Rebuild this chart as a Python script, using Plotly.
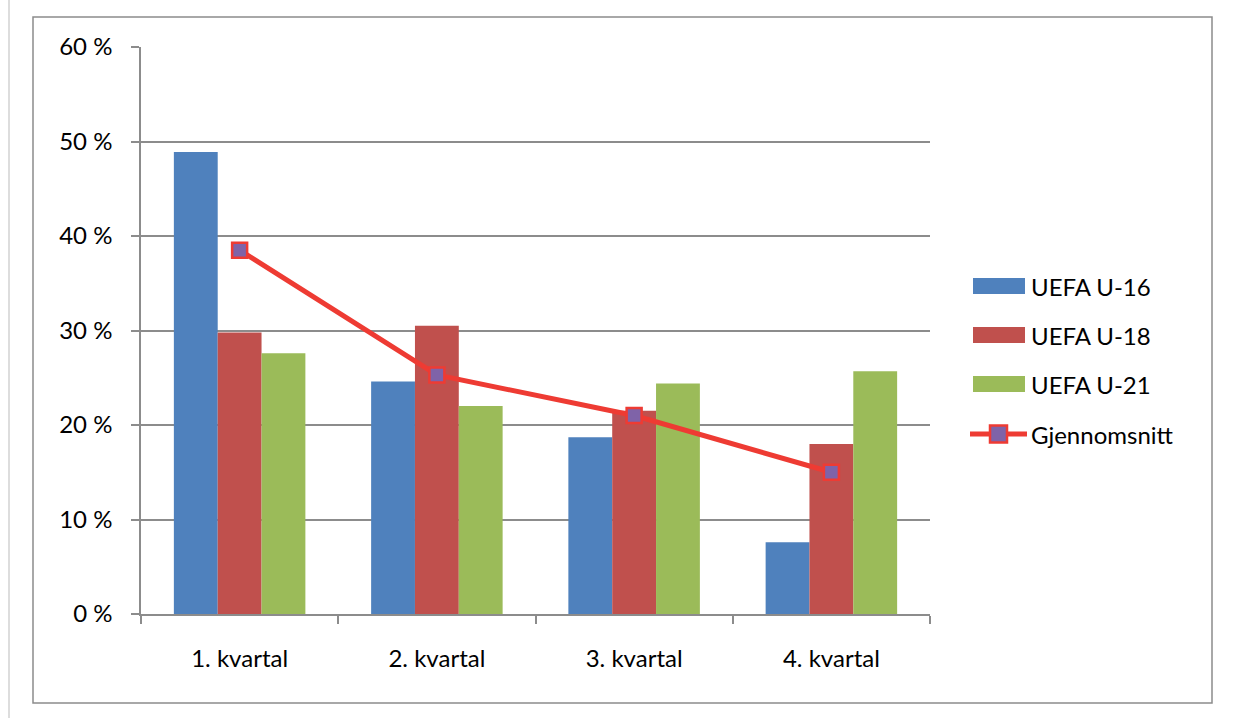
import plotly.graph_objects as go

categories = ["1. kvartal", "2. kvartal", "3. kvartal", "4. kvartal"]
u16 = [48.9, 24.6, 18.7, 7.6]
u18 = [29.8, 30.5, 21.5, 18.0]
u21 = [27.6, 22.0, 24.4, 25.7]
avg = [38.5, 25.3, 21.0, 15.0]
y_ticks = [0, 10, 20, 30, 40, 50, 60]

series_names = ["UEFA U-16", "UEFA U-18", "UEFA U-21", "Gjennomsnitt"]
colors = ["#4F81BD", "#C0504D", "#9BBB59"]
line_color = "#EE3B33"
marker_fill = "#7F63A8"

W, H = 1234, 718
L, R, T, B = 141, 930, 47, 614

def px(x):
    return (x - L) / (R - L)

def py(y):
    return (B - y) / (B - T)

fig = go.Figure()
for name, vals, col in zip(series_names[:3], [u16, u18, u21], colors):
    fig.add_trace(go.Bar(x=categories, y=vals, name=name, showlegend=False,
                         marker=dict(color=col, line=dict(width=0))))
fig.add_trace(go.Scatter(x=categories, y=avg, name=series_names[3], mode="lines+markers", showlegend=False,
                         line=dict(color=line_color, width=5),
                         marker=dict(symbol="square", size=15, color=marker_fill,
                                     line=dict(color=line_color, width=2.5))))

font_family = "Lato, Open Sans, sans-serif"
fs = 24

shapes = [
    dict(type="rect", xref="paper", yref="paper", x0=px(33), x1=px(1212), y0=py(703), y1=py(17),
         line=dict(color="#8C8C8C", width=1.5), fillcolor="rgba(0,0,0,0)", layer="below"),
    dict(type="line", xref="paper", yref="paper", x0=px(9), x1=px(9), y0=py(718), y1=py(0),
         line=dict(color="#BBBBBB", width=1)),
]
annotations = []
leg_y = [286, 335, 384, 434]
for i, name in enumerate(series_names):
    yc = leg_y[i]
    if i < 3:
        shapes.append(dict(type="rect", xref="paper", yref="paper",
                           x0=px(973), x1=px(1025), y0=py(yc + 8), y1=py(yc - 8),
                           fillcolor=colors[i], line=dict(width=0)))
    else:
        shapes.append(dict(type="line", xref="paper", yref="paper",
                           x0=px(970), x1=px(1027), y0=py(yc), y1=py(yc),
                           line=dict(color=line_color, width=5)))
        shapes.append(dict(type="rect", xref="paper", yref="paper",
                           x0=px(990), x1=px(1007), y0=py(yc + 8.5), y1=py(yc - 8.5),
                           fillcolor=marker_fill, line=dict(color=line_color, width=2.5)))
    annotations.append(dict(xref="paper", yref="paper", x=px(1029), y=py(yc), xanchor="left",
                            yanchor="middle", text=name, showarrow=False,
                            font=dict(size=fs, family=font_family, color="black")))

fig.update_layout(
    width=W, height=H,
    margin=dict(l=L, r=W - R, t=T, b=H - B, pad=0),
    paper_bgcolor="white", plot_bgcolor="white",
    barmode="group", bargap=1/3, bargroupgap=0,
    font=dict(family=font_family, size=fs, color="black"),
    showlegend=False,
    xaxis=dict(type="category", showgrid=False, showline=True, linecolor="#8C8C8C", linewidth=1.5,
               ticks="outside", tickson="boundaries", ticklen=8, tickcolor="#8C8C8C", tickwidth=1.5,
               tickfont=dict(size=fs), ticklabelstandoff=22, fixedrange=True),
    yaxis=dict(range=[0, 60], tickvals=y_ticks, ticktext=[f"{v} %" for v in y_ticks],
               showgrid=True, gridcolor="#8C8C8C", gridwidth=1.5,
               showline=True, linecolor="#8C8C8C", linewidth=1.5,
               ticks="outside", ticklen=8, tickcolor="#8C8C8C", tickwidth=1.5,
               tickfont=dict(size=fs), ticklabelstandoff=14, zeroline=False, fixedrange=True),
    shapes=shapes,
    annotations=annotations,
)

fig.write_html("out.html")
